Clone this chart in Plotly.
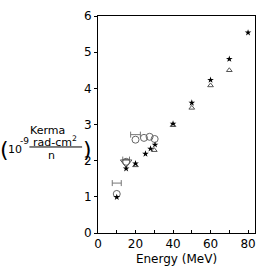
import plotly.graph_objects as go

# Data (Energy in MeV, Kerma in 1e-9 rad-cm^2/n)
star_E = [10, 15, 20, 25.3, 28, 30.4, 40, 50, 60, 70, 80]
star_K = [0.99, 1.78, 1.92, 2.19, 2.33, 2.44, 3.02, 3.6, 4.23, 4.81, 5.54]

tri_E = [20, 30, 40, 50, 60, 70]
tri_K = [1.87, 2.29, 2.98, 3.46, 4.08, 4.5]

circ_E = [10, 15, 20, 24.5, 27.5, 30.2]
circ_K = [1.08, 1.97, 2.58, 2.63, 2.66, 2.6]

tridown_E = [15]
tridown_K = [1.95]

bar_E = [10, 15, 20]
bar_K = [1.38, 2.03, 2.72]
bar_dE = [2.4, 1.8, 2.6]

W, H = 265, 274
L, R, T, B = 98, 9, 11, 41
PW, PH = W - L - R, H - T - B

def px(x):
    return (x - L) / PW

def py(y):
    return (H - B - y) / PH

FONT = "DejaVu Sans"

fig = go.Figure()
fig.add_trace(go.Scatter(x=bar_E, y=bar_K, mode="markers",
                         marker=dict(size=1, color="rgba(0,0,0,0)"),
                         error_x=dict(type="data", array=bar_dE, color="#777",
                                      thickness=1, width=3)))
fig.add_trace(go.Scatter(x=circ_E, y=circ_K, mode="markers",
                         marker=dict(symbol="circle-open", size=7, color="#666",
                                     line=dict(width=1))))
fig.add_trace(go.Scatter(x=tridown_E, y=tridown_K, mode="markers",
                         marker=dict(symbol="triangle-down-open", size=10, color="#555",
                                     line=dict(width=1))))
fig.add_trace(go.Scatter(x=tri_E, y=tri_K, mode="markers",
                         marker=dict(symbol="triangle-up-open", size=5, color="#555",
                                     line=dict(width=1))))
fig.add_trace(go.Scatter(x=star_E, y=star_K, mode="markers",
                         marker=dict(symbol="star", size=5, color="#000",
                                     line=dict(width=0))))

axis_common = dict(showline=True, linecolor="black", linewidth=1, mirror=True,
                   showgrid=False, zeroline=False,
                   tickfont=dict(family=FONT, size=12, color="black"))

fig.update_layout(
    width=W, height=H, margin=dict(l=L, r=R, t=T, b=B),
    paper_bgcolor="white", plot_bgcolor="white", showlegend=False,
    xaxis=dict(range=[0, 83.7], tickvals=[0, 20, 40, 60, 80],
               ticks="inside", ticklen=3, tickcolor="black",
               minor=dict(tickvals=[10, 30, 50, 70], ticks="inside", ticklen=3,
                          tickcolor="black"),
               title=dict(text="Energy (MeV)", font=dict(family=FONT, size=12, color="black"),
                          standoff=4),
               **axis_common),
    yaxis=dict(range=[0, 6], tickvals=[0, 1, 2, 3, 4, 5, 6],
               ticks="outside", ticklen=3, tickcolor="black",
               **axis_common),
)

ann = [
    dict(text="Kerma", x=px(47), y=py(128), size=11),
    dict(text="(", x=px(4), y=py(148), size=22),
    dict(text="10", x=px(14), y=py(148), size=11),
    dict(text="-9", x=px(24), y=py(139), size=9),
    dict(text="rad-cm<sup>2</sup>", x=px(55), y=py(139), size=11),
    dict(text="n", x=px(51), y=py(154), size=11),
    dict(text=")", x=px(87), y=py(148), size=22),
]
for a in ann:
    fig.add_annotation(text=a["text"], x=a["x"], y=a["y"], xref="paper", yref="paper",
                       showarrow=False, xanchor="center", yanchor="middle",
                       font=dict(family=FONT, size=a["size"], color="black"))

fig.add_shape(type="line", xref="paper", yref="paper",
              x0=px(29), x1=px(82), y0=py(145), y1=py(145),
              line=dict(color="black", width=1))

fig.write_html("out.html")
